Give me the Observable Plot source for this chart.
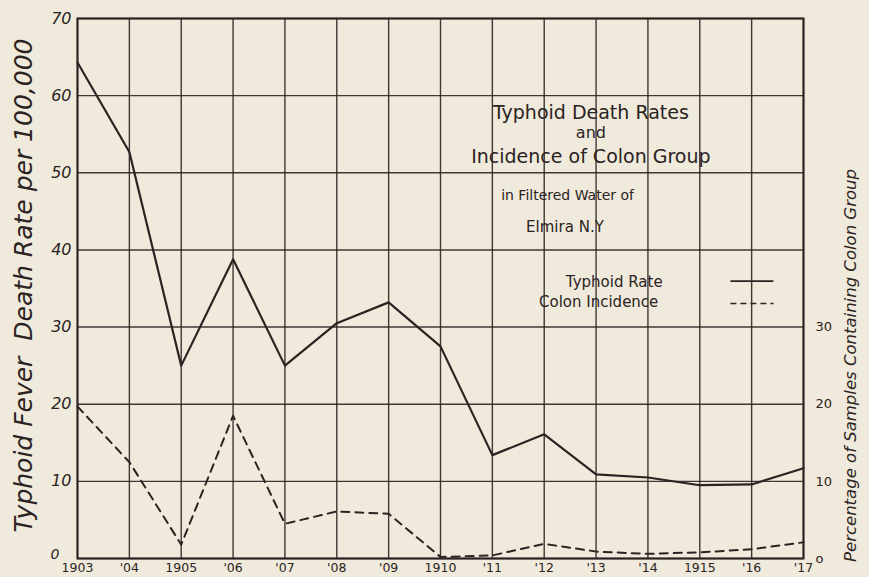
<!DOCTYPE html>
<html>
<head>
<meta charset="utf-8">
<script src="https://cdn.jsdelivr.net/npm/d3@7"></script>
<script src="https://cdn.jsdelivr.net/npm/@observablehq/plot@0.6"></script>
<style>
  html, body { margin: 0; padding: 0; background: #efeadc; }
  #chart svg { display: block; background: #efeadc; }
</style>
</head>
<body>
<div id="chart"></div>
<script>
// ---- data ----
const years = [1903,1904,1905,1906,1907,1908,1909,1910,1911,1912,1913,1914,1915,1916,1917];
const yearLabels = ["1903","'04","1905","'06","'07","'08","'09","1910","'11","'12","'13","'14","1915","'16","'17"];
const typhoidRate = [64.3,52.7,25.0,38.8,25.0,30.5,33.2,27.5,13.4,16.1,10.9,10.5,9.5,9.6,11.7];
const colonIncidence = [19.7,12.5,1.8,18.5,4.5,6.1,5.8,0.2,0.4,1.9,0.9,0.6,0.8,1.2,2.1];
const leftTicks = [10,20,30,40,50,60,70];
const gridTicks = [0,10,20,30,40,50,60,70];
const rightTicks = [0,10,20,30];
const leftLabel = "Typhoid Fever  Death Rate per 100,000";
const rightLabel = "Percentage of Samples Containing Colon Group";
const titleLines = [
  {text: "Typhoid Death Rates", x: 1912.9, y: 57.8, size: 19},
  {text: "and", x: 1912.9, y: 55.2, size: 16},
  {text: "Incidence of Colon Group", x: 1912.9, y: 52.0, size: 19},
  {text: "in Filtered Water of", x: 1912.45, y: 47.1, size: 14},
  {text: "Elmira N.Y", x: 1912.4, y: 43.0, size: 15}
];
const legendItems = [
  {text: "Typhoid Rate", x: 1913.35, y: 35.8},
  {text: "Colon Incidence", x: 1913.05, y: 33.2}
];

const ink = "#2b2322";
const font = "DejaVu Sans";

const typhoid = years.map((y, i) => ({year: y, value: typhoidRate[i]}));
const colon = years.map((y, i) => ({year: y, value: colonIncidence[i]}));

const chart = Plot.plot({
  width: 869,
  height: 577,
  marginLeft: 77,
  marginRight: 66,
  marginTop: 18,
  marginBottom: 19,
  style: {background: "#efeadc", fontFamily: font, color: ink},
  x: {domain: [1903, 1917]},
  y: {domain: [0, 70]},
  marks: [
    Plot.ruleX(years, {stroke: ink, strokeWidth: 1.4, strokeOpacity: 0.9}),
    Plot.ruleY(gridTicks, {stroke: ink, strokeWidth: 1.4, strokeOpacity: 0.9}),
    Plot.frame({stroke: ink, strokeWidth: 2}),
    Plot.axisX(years, {
      tickSize: 0, tickPadding: 5, fontSize: 12.5, label: null,
      tickFormat: (d) => yearLabels[years.indexOf(d)], fill: ink
    }),
    Plot.axisY(leftTicks, {
      anchor: "left", tickSize: 0, tickPadding: 6, fontSize: 16, fontStyle: "italic",
      label: null, fill: ink
    }),
    Plot.axisY([0], {
      anchor: "left", tickSize: 0, tickPadding: 18, dy: -4, fontSize: 14, fontStyle: "italic",
      label: null, fill: ink
    }),
    Plot.axisY(rightTicks, {
      anchor: "right", tickSize: 0, tickPadding: 12, fontSize: 13,
      label: null, fill: ink, tickFormat: (d) => d === 0 ? "o" : String(d)
    }),
    Plot.text([leftLabel], {
      frameAnchor: "left", textAnchor: "middle", rotate: -90, dx: -54, dy: -3, fontSize: 25,
      fontStyle: "italic", fill: ink, fontFamily: font
    }),
    Plot.text([rightLabel], {
      frameAnchor: "right", textAnchor: "middle", rotate: -90, dx: 47, dy: 77, fontSize: 16.5,
      fontStyle: "italic", fill: ink, fontFamily: font
    }),
    Plot.line(typhoid, {x: "year", y: "value", stroke: ink, strokeWidth: 2.2}),
    Plot.line(colon, {x: "year", y: "value", stroke: ink, strokeWidth: 2, strokeDasharray: "8,6"}),
    Plot.text(titleLines, {
      x: "x", y: "y", text: "text", fontSize: (d) => d.size, fill: ink, fontFamily: font
    }),
    Plot.text(legendItems, {
      x: "x", y: "y", text: "text", fontSize: 15, fill: ink, fontFamily: font
    }),
    Plot.ruleY([legendItems[0]], {y: (d) => d.y + 0.15, x1: 1915.6, x2: 1916.43, stroke: ink, strokeWidth: 1.6}),
    Plot.ruleY([legendItems[1]], {y: (d) => d.y - 0.15, x1: 1915.6, x2: 1916.43, stroke: ink, strokeWidth: 1.6, strokeDasharray: "6,4"})
  ]
});
document.getElementById("chart").appendChild(chart);
</script>
</body>
</html>
